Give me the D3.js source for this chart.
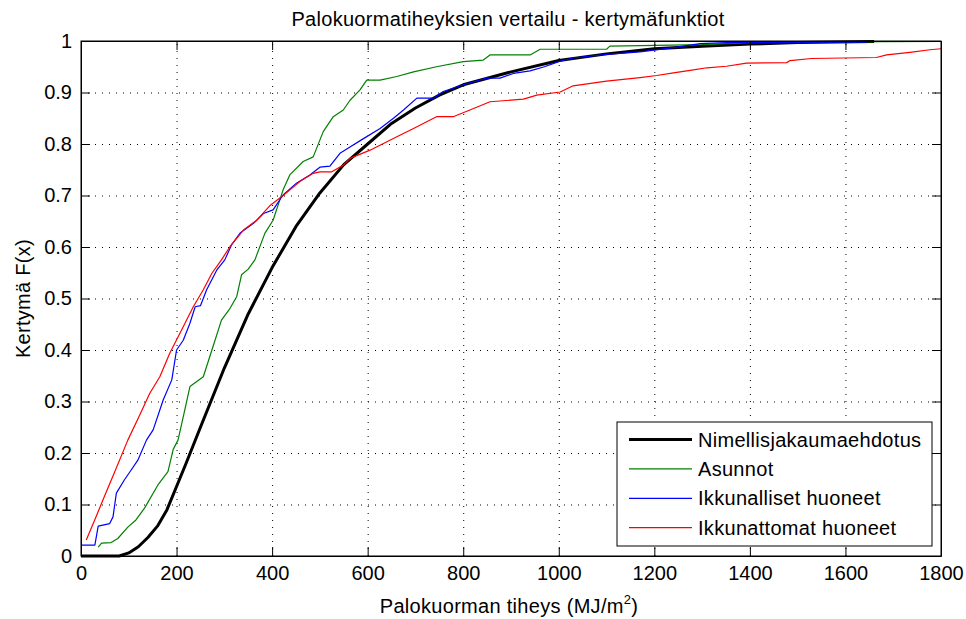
<!DOCTYPE html>
<html lang="fi">
	<head>
		<meta charset="utf-8">
		<title>Palokuormatiheyksien vertailu</title>
		<script type="text/javascript" src="https://d3js.org/d3.v7.min.js"></script>
		<style type="text/css">
            body{margin:0;background:#fff;font-family:"Liberation Sans",Arial,sans-serif;}
            text{fill:#000;}
            .lbl{letter-spacing:0.3px;}
		</style>
	</head>
	<body>
    <div id="chart1"></div>
		<script type="text/javascript">
            // tick values / labels
            var xTicks = [0,200,400,600,800,1000,1200,1400,1600,1800]
            var xTickLabels = ["0","200","400","600","800","1000","1200","1400","1600","1800"]
            var yTicks = [0,0.1,0.2,0.3,0.4,0.5,0.6,0.7,0.8,0.9,1]
            var yTickLabels = ["0","0.1","0.2","0.3","0.4","0.5","0.6","0.7","0.8","0.9","1"]

            var seriesNames = ["Nimellisjakaumaehdotus","Asunnot","Ikkunalliset huoneet","Ikkunattomat huoneet"]

            // Nimellisjakaumaehdotus
            var nimX = [0,80,100,120,140,160,180,200,220,250,300,350,400,450,500,550,600,650,700,750,800,900,1000,1100,1200,1300,1400,1500,1660]
            var nimY = [0,0,0.006,0.018,0.036,0.058,0.09,0.135,0.18,0.25,0.365,0.47,0.56,0.64,0.705,0.76,0.80,0.84,0.87,0.895,0.915,0.94,0.962,0.975,0.985,0.99,0.994,0.997,0.999]

            // Asunnot
            var asX = [36,43,63,77,98,115,133,161,182,193,203,214,228,256,274,294,312,326,336,350,364,385,402,423,437,465,486,507,528,549,563,584,598,626,661,696,744,800,842,856,940,961,1100,1107,1300,1435,1800]
            var asY = [0.017,0.025,0.026,0.034,0.056,0.07,0.093,0.138,0.164,0.207,0.225,0.27,0.329,0.348,0.4,0.458,0.481,0.504,0.546,0.557,0.575,0.627,0.652,0.711,0.74,0.766,0.775,0.824,0.853,0.866,0.885,0.905,0.924,0.924,0.931,0.94,0.95,0.96,0.963,0.973,0.973,0.984,0.984,0.99,0.993,0.998,0.999]

            // Ikkunalliset huoneet
            var ikX = [0,29,36,60,67,74,91,105,119,137,151,172,190,200,214,228,239,250,263,284,301,315,333,361,382,402,423,451,479,500,521,542,563,587,626,654,675,703,738,758,800,849,877,905,940,970,1003,1030,1100,1170,1240,1296,1351,1644]
            var ikY = [0.021,0.021,0.058,0.063,0.076,0.122,0.148,0.167,0.186,0.225,0.245,0.303,0.342,0.4,0.419,0.452,0.484,0.486,0.517,0.555,0.575,0.604,0.627,0.646,0.665,0.672,0.701,0.724,0.74,0.755,0.757,0.782,0.794,0.808,0.83,0.85,0.866,0.889,0.889,0.902,0.915,0.928,0.928,0.937,0.942,0.95,0.961,0.967,0.974,0.979,0.987,0.995,0.997,0.998]

            // Ikkunattomat huoneet
            var itX = [11,30,50,70,98,120,144,165,186,214,235,256,274,294,312,340,368,395,423,458,486,500,525,549,563,605,661,696,744,779,814,856,926,954,1003,1030,1100,1170,1205,1240,1275,1310,1351,1393,1477,1484,1529,1665,1686,1735,1777,1800]
            var itY = [0.031,0.073,0.118,0.162,0.225,0.268,0.316,0.348,0.394,0.445,0.484,0.517,0.549,0.575,0.601,0.633,0.652,0.68,0.7,0.727,0.743,0.746,0.746,0.759,0.772,0.788,0.814,0.83,0.853,0.853,0.866,0.882,0.887,0.895,0.901,0.913,0.922,0.929,0.933,0.938,0.943,0.948,0.951,0.957,0.958,0.962,0.966,0.968,0.973,0.978,0.983,0.985]

            var seriesX = [nimX,asX,ikX,itX]
            var seriesY = [nimY,asY,ikY,itY]
            var colors = ["#000000","#008000","#0000ff","#ff0000"]
            var widths = [3,1.2,1.2,1.2]

            var W = 966, H = 619
            var mLeft = 81, mRight = 941, mTop = 41, mBottom = 556

            var xScale = d3.scaleLinear().domain([0,1800]).range([mLeft,mRight])
            var yScale = d3.scaleLinear().domain([0,1]).range([mBottom,mTop])

            var svg = d3.select("#chart1")
                        .append("svg")
                        .attr("width",W)
                        .attr("height",H)
                        .style("font-family","'Liberation Sans',Arial,sans-serif")

            svg.append("rect").attr("width",W).attr("height",H).attr("fill","#fff")

            // dotted grid
            svg.append("g")
                .attr("transform","translate(0,"+mBottom+")")
                .call(d3.axisBottom(xScale).tickValues(xTicks).tickSize(-(mBottom-mTop)).tickFormat(""))
                .call(function(g){
                    g.select(".domain").remove()
                    g.selectAll("line").attr("stroke","#000").attr("stroke-dasharray","1,6")
                })
            svg.append("g")
                .attr("transform","translate("+mLeft+",0)")
                .call(d3.axisLeft(yScale).tickValues(yTicks).tickSize(-(mRight-mLeft)).tickFormat(""))
                .call(function(g){
                    g.select(".domain").remove()
                    g.selectAll("line").attr("stroke","#000").attr("stroke-dasharray","1,6")
                })

            // curves
            var line = d3.line()
                .x(function(d){ return xScale(d[0]) })
                .y(function(d){ return yScale(d[1]) })

            seriesX.forEach(function(xs,i){
                var pts = xs.map(function(v,j){ return [v,seriesY[i][j]] })
                svg.append("path")
                    .datum(pts)
                    .attr("d",line)
                    .attr("fill","none")
                    .attr("stroke",colors[i])
                    .attr("stroke-width",widths[i])
                    .attr("stroke-linejoin","round")
            })

            // axes with inward ticks on all four sides
            var tick = 9
            var axes = svg.append("g").attr("class","axes")
            axes.append("g")
                .attr("transform","translate(0,"+mBottom+")")
                .call(d3.axisBottom(xScale).tickValues(xTicks).tickSizeInner(-tick).tickSizeOuter(0).tickPadding(10)
                    .tickFormat(function(d,i){ return xTickLabels[i] }))
            axes.append("g")
                .attr("transform","translate("+mLeft+",0)")
                .call(d3.axisLeft(yScale).tickValues(yTicks).tickSizeInner(-tick).tickSizeOuter(0).tickPadding(9)
                    .tickFormat(function(d,i){ return yTickLabels[i] }))
            axes.append("g")
                .attr("transform","translate(0,"+mTop+")")
                .call(d3.axisTop(xScale).tickValues(xTicks).tickSizeInner(-tick).tickSizeOuter(0).tickFormat(""))
            axes.append("g")
                .attr("transform","translate("+mRight+",0)")
                .call(d3.axisRight(yScale).tickValues(yTicks).tickSizeInner(-tick).tickSizeOuter(0).tickFormat(""))

            axes.selectAll(".tick text")
                .attr("font-size","20px")
                .attr("font-family","'Liberation Sans',Arial,sans-serif")
                .attr("fill","#000")
            axes.selectAll(".tick line").attr("stroke","#000")
            axes.selectAll(".domain").attr("stroke","#000")

            svg.append("rect")
                .attr("x",mLeft).attr("y",mTop)
                .attr("width",mRight-mLeft).attr("height",mBottom-mTop)
                .attr("fill","none").attr("stroke","#000").attr("stroke-width",1)

            // title and axis labels
            svg.append("text")
                .attr("class","lbl")
                .attr("x",(mLeft+mRight)/2-3).attr("y",26)
                .attr("text-anchor","middle").attr("font-size","20px")
                .text("Palokuormatiheyksien vertailu - kertymäfunktiot")

            var xl = svg.append("text")
                .attr("class","lbl")
                .attr("x",(mLeft+mRight)/2-2).attr("y",613)
                .attr("text-anchor","middle").attr("font-size","20px")
            xl.append("tspan").text("Palokuorman tiheys (MJ/m")
            xl.append("tspan").attr("font-size","13px").attr("dy","-9").text("2")
            xl.append("tspan").attr("dy","9").text(")")

            svg.append("text")
                .attr("class","lbl")
                .attr("transform","translate(30,"+((mTop+mBottom)/2)+") rotate(-90)")
                .attr("text-anchor","middle").attr("font-size","20px")
                .text("Kertymä F(x)")

            // legend
            var lg = svg.append("g")
            lg.append("rect")
                .attr("x",617).attr("y",422).attr("width",315).attr("height",124)
                .attr("fill","#fff").attr("stroke","#000").attr("stroke-width",1)
            seriesNames.forEach(function(name,i){
                var ly = 439.5 + i*29.4
                lg.append("line")
                    .attr("x1",629).attr("x2",692).attr("y1",ly).attr("y2",ly)
                    .attr("stroke",colors[i]).attr("stroke-width",widths[i])
                lg.append("text")
                    .attr("class","lbl")
                    .attr("x",698).attr("y",ly).attr("dy","0.35em")
                    .attr("font-size","20px")
                    .text(name)
            })
        </script>
	</body>
</html>
